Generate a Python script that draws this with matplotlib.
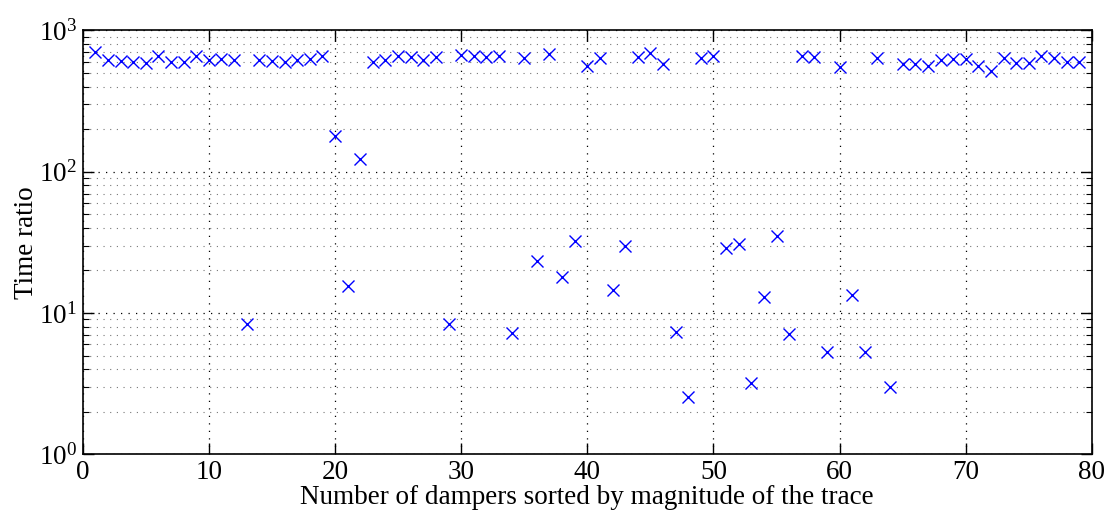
import matplotlib
matplotlib.use('Agg')
import matplotlib.pyplot as plt
from matplotlib.ticker import LogLocator, NullFormatter

plt.rcParams['font.family'] = ['Liberation Serif', 'DejaVu Serif']
plt.rcParams['mathtext.fontset'] = 'stix'

# damper index and time ratio
dampers = list(range(1, 80))
time_ratio = [707, 620, 610, 600, 590, 655, 595, 595, 655, 620,
              630, 620, 8.36, 620, 610, 600, 620, 630, 659, 180,
              15.5, 123, 595, 615, 655, 645, 620, 645, 8.36, 670,
              655, 650, 655, 7.26, 640, 23.4, 677, 18.1, 32.5, 560,
              641, 14.5, 29.8, 650, 695, 580, 7.38, 2.55, 641, 659,
              29.0, 30.6, 3.18, 12.9, 35.2, 7.10, 659, 650, 5.27, 548,
              13.3, 5.27, 641, 3.01, 578, 578, 562, 614, 624, 624,
              562, 519, 641, 591, 591, 659, 641, 601, 601]

fig = plt.figure(figsize=(11.12, 5.13), dpi=100)
ax = fig.add_axes([0.0744, 0.1144, 0.9075, 0.8266])

ax.semilogy(dampers, time_ratio, 'x', color='b', markersize=9, markeredgewidth=1.0)

ax.set_xlim(0, 80)
ax.set_ylim(1, 1000)
ax.set_xticks(range(0, 81, 10))
ax.yaxis.set_major_locator(LogLocator(base=10, numticks=10))
ax.yaxis.set_minor_locator(LogLocator(base=10, subs=range(2, 10), numticks=10))
ax.yaxis.set_minor_formatter(NullFormatter())

ax.grid(True, which='major', linestyle=(0, (1, 5)), color='k', linewidth=0.9)
ax.grid(True, which='minor', axis='y', linestyle=(0, (1, 5)), color='#777777', linewidth=0.8)

ax.tick_params(which='both', direction='in', top=True, right=True, labelsize=19.5, pad=4)
ax.tick_params(which='major', length=8, width=1)
ax.tick_params(which='minor', length=4, width=0.8)
for s in ax.spines.values():
    s.set_linewidth(1.2)

ax.set_xlabel('Number of dampers sorted by magnitude of the trace', fontsize=19.5, labelpad=0)
ax.set_ylabel('Time ratio', fontsize=19.5, labelpad=0)

fig.savefig('out.png', dpi=100)
